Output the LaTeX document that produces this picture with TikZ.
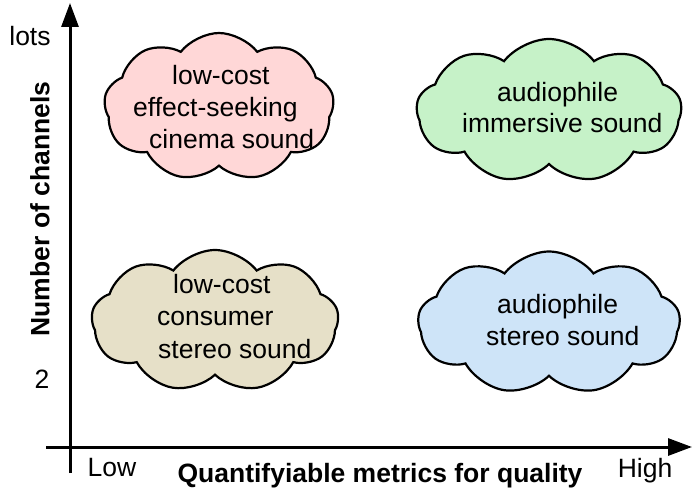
\documentclass[tikz,border=0pt]{standalone}
\usepackage{fontspec}
\setmainfont{Liberation Sans}
\usetikzlibrary{arrows.meta,shapes.symbols}
\definecolor{cpink}{RGB}{255,215,215}
\definecolor{cgreen}{RGB}{198,242,200}
\definecolor{ctan}{RGB}{230,224,200}
\definecolor{cblue}{RGB}{206,228,248}
\tikzset{
  bubble/.style={cloud, draw=black, line width=2.2pt, cloud puffs=9, cloud puff arc=105, inner sep=0pt, aspect=1.7},
  txt/.style={anchor=base west, inner sep=0pt, font=\fontsize{26.5}{32}\selectfont},
  lbl/.style={inner sep=0pt, font=\fontsize{26.5}{32}\selectfont},
  ttl/.style={inner sep=0pt, font=\fontsize{26.5}{32}\selectfont\bfseries},
  axis/.style={line width=3pt, -{Triangle[length=24pt,width=17pt]}}
}
\begin{document}
\begin{tikzpicture}[x=1pt,y=-1pt]
\useasboundingbox (0,0) rectangle (700,495);
% axes
\coordinate (yb) at (70,473);
\coordinate (yt) at (70,3);
\coordinate (xl) at (46,447);
\coordinate (xr) at (692,447);
\draw[axis] (yb) -- (yt);
\draw[axis] (xl) -- (xr);
% clouds
\node[bubble, fill=cpink, minimum width=230pt, minimum height=148pt] (c1) at (219,107) {};
\node[bubble, fill=cgreen, minimum width=265pt, minimum height=144pt] (c2) at (549,111) {};
\node[bubble, fill=ctan, minimum width=247pt, minimum height=142pt] (c3) at (215,321) {};
\node[bubble, fill=cblue, minimum width=262pt, minimum height=143pt] (c4) at (549,323) {};
% cloud texts
\node[txt] (t11) at (172,84) {low-cost};
\node[txt] (t12) at (133,116) {effect-seeking};
\node[txt] (t13) at (149,148) {cinema sound};
\node[txt] (t21) at (497,101) {audiophile};
\node[txt] (t22) at (462,132) {immersive sound};
\node[txt] (t31) at (173,293) {low-cost};
\node[txt] (t32) at (157,325) {consumer};
\node[txt] (t33) at (158,358) {stereo sound};
\node[txt] (t41) at (497,313) {audiophile};
\node[txt] (t42) at (486,345) {stereo sound};
% axis labels
\node[lbl] (lots) at (30,36) {lots};
\node[lbl] (two) at (42,379) {2};
\node[lbl] (low) at (112,468) {Low};
\node[lbl] (high) at (645,471) {High};
\node[ttl] (xt) at (380,476) {Quantifyiable metrics for quality};
\node[ttl, rotate=90] (yt2) at (40,209) {Number of channels};
\end{tikzpicture}
\end{document}
